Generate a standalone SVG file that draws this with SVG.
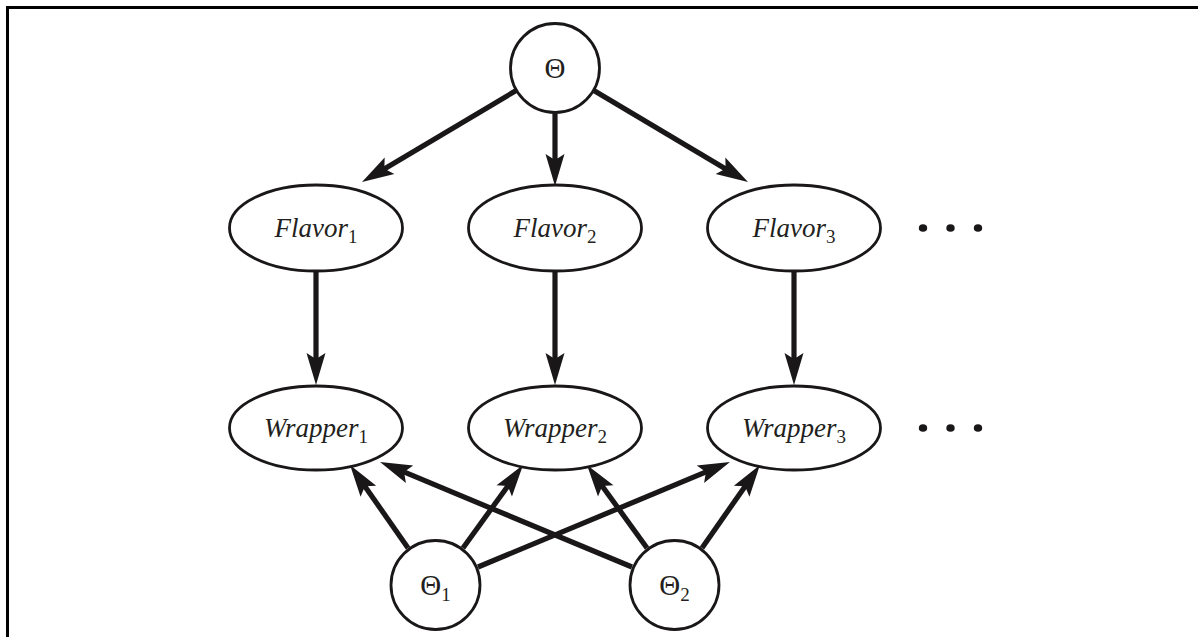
<svg xmlns="http://www.w3.org/2000/svg" width="1198" height="637" viewBox="0 0 1198 637">
<style>
.frame{stroke:#000;stroke-width:3;fill:none}
.node{fill:#fff;stroke:#1a1718;stroke-width:2.8}
.edge{stroke:#1a1718;stroke-width:5.2;fill:none}
.lbl{font-family:"Liberation Serif","Times New Roman",serif;font-size:27px;fill:#231f20}
.big{font-size:29px}
.it{font-style:italic}
.sub{font-size:19px;font-style:normal}
.dot{fill:#1a1718}
</style>
<defs>
<marker id="ah" markerUnits="userSpaceOnUse" viewBox="-1 -11 35 22" markerWidth="35" markerHeight="22" refX="12" refY="0" orient="auto" overflow="visible">
<path d="M0,-9.5 L32,0 L0,9.5 L6,0 Z" fill="#1a1718"/>
</marker>
</defs>
<path class="frame" d="M7.5,637 V7.5 H1198"/>
<g id="connectors">
<line class="edge" x1="517" y1="90" x2="379.2" y2="171.9" marker-end="url(#ah)"/>
<line class="edge" x1="555" y1="112" x2="555" y2="166" marker-end="url(#ah)"/>
<line class="edge" x1="593" y1="90" x2="730.8" y2="171.9" marker-end="url(#ah)"/>
<line class="edge" x1="316" y1="271" x2="316" y2="365" marker-end="url(#ah)"/>
<line class="edge" x1="555" y1="271" x2="555" y2="365" marker-end="url(#ah)"/>
<line class="edge" x1="794" y1="271" x2="794" y2="365" marker-end="url(#ah)"/>
<line class="edge" x1="408" y1="548" x2="361.5" y2="481.4" marker-end="url(#ah)"/>
<line class="edge" x1="463" y1="548" x2="511.3" y2="481.2" marker-end="url(#ah)"/>
<line class="edge" x1="478" y1="567" x2="711.5" y2="469.7" marker-end="url(#ah)"/>
<line class="edge" x1="632" y1="567" x2="398.5" y2="469.7" marker-end="url(#ah)"/>
<line class="edge" x1="647" y1="548" x2="598.7" y2="481.2" marker-end="url(#ah)"/>
<line class="edge" x1="702" y1="548" x2="748.5" y2="481.4" marker-end="url(#ah)"/>
</g>
<g id="theta">
<circle class="node" cx="555" cy="68" r="44.5"/>
<text class="lbl big" x="555" y="78" text-anchor="middle">Θ</text>
</g>
<g id="flavor1">
<ellipse class="node" cx="316" cy="228" rx="86.5" ry="43"/>
<text class="lbl" x="316" y="237" text-anchor="middle"><tspan class="it">Flavor</tspan><tspan class="sub" dy="6">1</tspan></text>
</g>
<g id="flavor2">
<ellipse class="node" cx="555" cy="228" rx="86.5" ry="43"/>
<text class="lbl" x="555" y="237" text-anchor="middle"><tspan class="it">Flavor</tspan><tspan class="sub" dy="6">2</tspan></text>
</g>
<g id="flavor3">
<ellipse class="node" cx="794" cy="228" rx="86.5" ry="43"/>
<text class="lbl" x="794" y="237" text-anchor="middle"><tspan class="it">Flavor</tspan><tspan class="sub" dy="6">3</tspan></text>
</g>
<g id="wrapper1">
<ellipse class="node" cx="316" cy="428" rx="86.5" ry="42"/>
<text class="lbl" x="316" y="437" text-anchor="middle"><tspan class="it">Wrapper</tspan><tspan class="sub" dy="6">1</tspan></text>
</g>
<g id="wrapper2">
<ellipse class="node" cx="555" cy="428" rx="86.5" ry="42"/>
<text class="lbl" x="555" y="437" text-anchor="middle"><tspan class="it">Wrapper</tspan><tspan class="sub" dy="6">2</tspan></text>
</g>
<g id="wrapper3">
<ellipse class="node" cx="794" cy="428" rx="86.5" ry="42"/>
<text class="lbl" x="794" y="437" text-anchor="middle"><tspan class="it">Wrapper</tspan><tspan class="sub" dy="6">3</tspan></text>
</g>
<g id="theta1">
<circle class="node" cx="435.5" cy="585" r="44.5"/>
<text class="lbl big" x="435.5" y="595" text-anchor="middle">Θ<tspan class="sub" dy="6">1</tspan></text>
</g>
<g id="theta2">
<circle class="node" cx="674.5" cy="585" r="44.5"/>
<text class="lbl big" x="674.5" y="595" text-anchor="middle">Θ<tspan class="sub" dy="6">2</tspan></text>
</g>
<g id="dots1">
<ellipse class="dot" cx="923" cy="228" rx="4.2" ry="3.8"/>
<ellipse class="dot" cx="950.5" cy="228" rx="4.2" ry="3.8"/>
<ellipse class="dot" cx="978" cy="228" rx="4.2" ry="3.8"/>
</g>
<g id="dots2">
<ellipse class="dot" cx="923" cy="428" rx="4.2" ry="3.8"/>
<ellipse class="dot" cx="950.5" cy="428" rx="4.2" ry="3.8"/>
<ellipse class="dot" cx="978" cy="428" rx="4.2" ry="3.8"/>
</g>
</svg>
